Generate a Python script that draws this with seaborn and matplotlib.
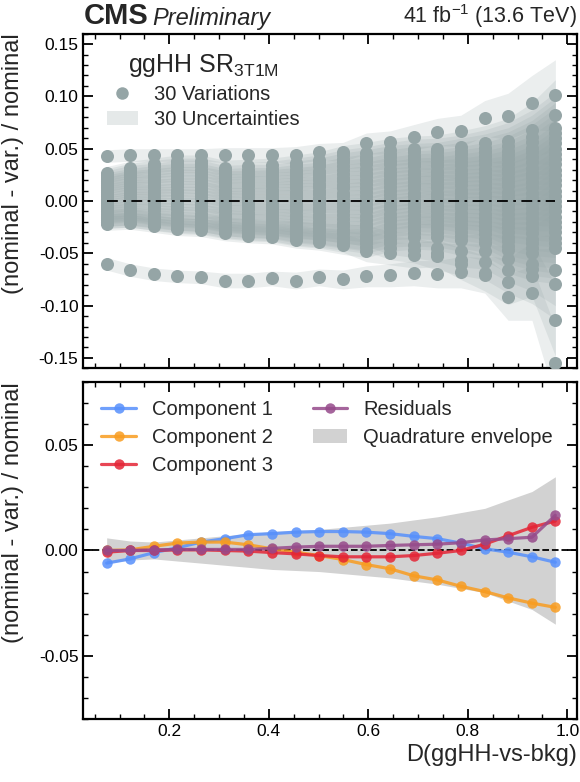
import matplotlib
matplotlib.use("Agg")
import matplotlib.pyplot as plt
from matplotlib.lines import Line2D
from matplotlib.patches import Patch
from matplotlib.ticker import MultipleLocator, FormatStrFormatter
import seaborn as sns
import numpy as np

# bin centres of D(ggHH-vs-bkg)
x_centers = [0.074, 0.121, 0.169, 0.216, 0.264, 0.311, 0.359, 0.406, 0.454, 0.501,
             0.549, 0.596, 0.644, 0.691, 0.739, 0.786, 0.834, 0.881, 0.929, 0.976]

# --- top panel: 30 variations ---
var_top = [0.043, 0.044, 0.044, 0.044, 0.044, 0.044, 0.044, 0.044, 0.044, 0.047,
           0.047, 0.055, 0.056, 0.061, 0.066, 0.067, 0.079, 0.081, 0.094, 0.101]
var_bottom = [-0.060, -0.066, -0.070, -0.072, -0.073, -0.076, -0.076, -0.074, -0.076, -0.073,
              -0.075, -0.072, -0.071, -0.069, -0.070, -0.068, -0.071, -0.092, -0.088, -0.155]
var_low_a = [-0.018, -0.017, -0.020, -0.022, -0.023, -0.026, -0.028, -0.029, -0.032, -0.034,
             -0.036, -0.038, -0.045, -0.047, -0.053, -0.056, -0.058, -0.066, -0.072, -0.079]
var_low_b = [-0.020, -0.019, -0.022, -0.025, -0.026, -0.029, -0.031, -0.032, -0.035, -0.037,
             -0.040, -0.048, -0.050, -0.052, -0.050, -0.060, -0.069, -0.077, -0.065, -0.114]
var_low_c = [-0.015, -0.013, -0.016, -0.018, -0.019, -0.022, -0.024, -0.025, -0.027, -0.029,
             -0.031, -0.033, -0.040, -0.042, -0.045, -0.048, -0.048, -0.055, -0.060, -0.066]
var_core = [
    [-0.022, -0.021, -0.024, -0.027, -0.028, -0.031, -0.033, -0.034, -0.037, -0.039, -0.042, -0.044, -0.037, -0.034, -0.034, -0.037, -0.040, -0.047, -0.050, -0.045],
    [-0.020, -0.019, -0.022, -0.024, -0.025, -0.028, -0.030, -0.031, -0.034, -0.036, -0.038, -0.040, -0.033, -0.031, -0.031, -0.033, -0.036, -0.043, -0.045, -0.040],
    [-0.018, -0.017, -0.019, -0.022, -0.023, -0.026, -0.028, -0.028, -0.031, -0.033, -0.035, -0.037, -0.030, -0.027, -0.027, -0.030, -0.032, -0.038, -0.040, -0.035],
    [-0.016, -0.014, -0.017, -0.019, -0.020, -0.023, -0.025, -0.026, -0.028, -0.029, -0.031, -0.033, -0.026, -0.024, -0.024, -0.026, -0.028, -0.034, -0.036, -0.030],
    [-0.014, -0.012, -0.014, -0.016, -0.017, -0.021, -0.022, -0.023, -0.025, -0.026, -0.028, -0.029, -0.023, -0.020, -0.020, -0.022, -0.024, -0.030, -0.031, -0.025],
    [-0.012, -0.010, -0.012, -0.013, -0.014, -0.018, -0.019, -0.020, -0.022, -0.023, -0.024, -0.025, -0.019, -0.017, -0.017, -0.018, -0.020, -0.025, -0.026, -0.020],
    [-0.010, -0.008, -0.009, -0.011, -0.012, -0.015, -0.017, -0.017, -0.019, -0.020, -0.021, -0.022, -0.016, -0.013, -0.013, -0.015, -0.016, -0.021, -0.021, -0.015],
    [-0.008, -0.006, -0.007, -0.008, -0.009, -0.013, -0.014, -0.014, -0.016, -0.016, -0.017, -0.018, -0.012, -0.010, -0.010, -0.011, -0.012, -0.017, -0.016, -0.010],
    [-0.006, -0.003, -0.004, -0.005, -0.006, -0.010, -0.011, -0.011, -0.013, -0.013, -0.013, -0.014, -0.008, -0.006, -0.006, -0.007, -0.008, -0.012, -0.011, -0.005],
    [-0.004, -0.001, -0.002, -0.003, -0.003, -0.007, -0.008, -0.009, -0.010, -0.010, -0.010, -0.010, -0.005, -0.003, -0.003, -0.004, -0.004, -0.008, -0.007, 0.000],
    [-0.002, 0.001, 0.001, 0.000, -0.001, -0.005, -0.006, -0.006, -0.007, -0.007, -0.006, -0.007, -0.001, 0.001, 0.001, 0.000, 0.000, -0.004, -0.002, 0.005],
    [0.000, 0.003, 0.003, 0.003, 0.002, -0.002, -0.003, -0.003, -0.004, -0.003, -0.003, -0.003, 0.002, 0.005, 0.005, 0.004, 0.004, 0.001, 0.003, 0.010],
    [0.002, 0.006, 0.006, 0.006, 0.005, 0.001, 0.000, 0.000, -0.001, 0.000, 0.001, 0.001, 0.006, 0.008, 0.008, 0.008, 0.008, 0.005, 0.008, 0.015],
    [0.005, 0.008, 0.008, 0.008, 0.008, 0.003, 0.003, 0.003, 0.003, 0.003, 0.005, 0.005, 0.010, 0.012, 0.012, 0.011, 0.012, 0.009, 0.013, 0.020],
    [0.007, 0.010, 0.010, 0.011, 0.011, 0.006, 0.006, 0.006, 0.006, 0.007, 0.008, 0.009, 0.013, 0.015, 0.015, 0.015, 0.015, 0.014, 0.018, 0.025],
    [0.009, 0.012, 0.013, 0.014, 0.013, 0.008, 0.008, 0.009, 0.009, 0.010, 0.012, 0.012, 0.017, 0.019, 0.019, 0.019, 0.019, 0.018, 0.023, 0.030],
    [0.011, 0.014, 0.015, 0.016, 0.016, 0.011, 0.011, 0.011, 0.012, 0.013, 0.015, 0.016, 0.020, 0.022, 0.022, 0.022, 0.023, 0.022, 0.027, 0.035],
    [0.013, 0.017, 0.018, 0.019, 0.019, 0.014, 0.014, 0.014, 0.015, 0.016, 0.019, 0.020, 0.024, 0.026, 0.026, 0.026, 0.027, 0.027, 0.032, 0.040],
    [0.015, 0.019, 0.020, 0.022, 0.022, 0.016, 0.017, 0.017, 0.018, 0.020, 0.022, 0.024, 0.027, 0.029, 0.029, 0.030, 0.031, 0.031, 0.037, 0.045],
    [0.017, 0.021, 0.023, 0.025, 0.024, 0.019, 0.019, 0.020, 0.021, 0.023, 0.026, 0.027, 0.031, 0.033, 0.033, 0.034, 0.035, 0.035, 0.042, 0.050],
    [0.019, 0.023, 0.025, 0.027, 0.027, 0.022, 0.022, 0.023, 0.024, 0.026, 0.030, 0.031, 0.035, 0.036, 0.036, 0.037, 0.039, 0.040, 0.047, 0.055],
    [0.021, 0.025, 0.028, 0.030, 0.030, 0.024, 0.025, 0.025, 0.027, 0.029, 0.033, 0.035, 0.038, 0.040, 0.040, 0.041, 0.043, 0.044, 0.051, 0.060],
    [0.023, 0.028, 0.030, 0.033, 0.033, 0.027, 0.028, 0.028, 0.030, 0.033, 0.037, 0.039, 0.042, 0.043, 0.043, 0.045, 0.047, 0.048, 0.056, 0.065],
    [0.025, 0.030, 0.033, 0.035, 0.035, 0.030, 0.030, 0.031, 0.033, 0.036, 0.040, 0.042, 0.045, 0.047, 0.047, 0.048, 0.051, 0.053, 0.061, 0.070],
    [0.027, 0.032, 0.035, 0.038, 0.038, 0.032, 0.033, 0.034, 0.036, 0.039, 0.044, 0.046, 0.049, 0.050, 0.050, 0.052, 0.055, 0.057, 0.068, 0.082],
]
# half-width of the per-variation uncertainty band
unc_half = [0.006, 0.006, 0.006, 0.006, 0.006, 0.007, 0.007, 0.007, 0.008, 0.008,
            0.009, 0.010, 0.011, 0.012, 0.013, 0.015, 0.017, 0.022, 0.026, 0.034]

# --- bottom panel ---
comp1 = [-0.0060, -0.0040, -0.0010, 0.0013, 0.0040, 0.0056, 0.0075, 0.0080, 0.0087, 0.0090,
         0.0090, 0.0087, 0.0080, 0.0067, 0.0056, 0.0035, 0.0008, -0.0008, -0.0030, -0.0056]
comp2 = [0.0000, 0.0003, 0.0020, 0.0035, 0.0040, 0.0040, 0.0027, 0.0008, -0.0008, -0.0024,
         -0.0043, -0.0067, -0.0087, -0.0120, -0.0140, -0.0170, -0.0195, -0.0225, -0.0250, -0.0270]
comp3 = [-0.0008, 0.0000, 0.0000, 0.0003, 0.0003, 0.0000, -0.0003, -0.0010, -0.0016, -0.0024,
         -0.0030, -0.0030, -0.0030, -0.0024, -0.0013, 0.0000, 0.0030, 0.0070, 0.0110, 0.0140]
resid = [0.0000, 0.0000, 0.0003, 0.0005, 0.0005, 0.0005, 0.0005, 0.0010, 0.0016, 0.0020,
         0.0020, 0.0020, 0.0024, 0.0027, 0.0030, 0.0037, 0.0050, 0.0056, 0.0063, 0.0167]
envelope = [0.006, 0.0045, 0.004, 0.005, 0.006, 0.007, 0.008, 0.009, 0.0095, 0.010,
            0.011, 0.012, 0.013, 0.0145, 0.016, 0.018, 0.020, 0.024, 0.028, 0.035]

c_var = "#95a5a6"
colors = {"Component 1": "#5790fc", "Component 2": "#f89c20",
          "Component 3": "#e42536", "Residuals": "#964a8b"}

sns.set_theme(style="ticks")
plt.rcParams["font.family"] = ["Liberation Sans", "DejaVu Sans"]
plt.rcParams.update({
    "mathtext.fontset": "custom",
    "mathtext.rm": "Liberation Sans",
    "mathtext.it": "Liberation Sans:italic",
    "mathtext.bf": "Liberation Sans:bold",
    "axes.unicode_minus": False,
    "axes.edgecolor": "black",
    "axes.linewidth": 1.6,
    "xtick.color": "black",
    "ytick.color": "black",
})

fig = plt.figure(figsize=(5.8, 7.82), dpi=100)
ax_top = fig.add_axes([0.1436, 0.5289, 0.8512, 0.4281])
ax_bot = fig.add_axes([0.1436, 0.0806, 0.8512, 0.4309], sharex=ax_top)

x = np.array(x_centers)
unc = np.array(unc_half)
all_vars = [var_top, var_bottom, var_low_a, var_low_b, var_low_c] + var_core

for v in all_vars:
    v = np.array(v)
    ax_top.fill_between(x, v - unc, v + unc, color=c_var, alpha=0.19, lw=0, zorder=1)
for v in all_vars:
    sns.scatterplot(x=x_centers, y=v, color=c_var, s=88, linewidth=0,
                    ax=ax_top, zorder=3, legend=False)
ax_top.hlines(0, x_centers[0], x_centers[-1], colors="black", lw=1.3,
              linestyles=(0, (6, 3, 1.5, 3)), zorder=4)

env = np.array(envelope)
ax_bot.fill_between(x, -env, env, color="#d2d2d2", lw=0, zorder=1)
ax_bot.axhline(0, color="black", lw=1.3, ls="--", zorder=2)
for name, vals in zip(colors, [comp1, comp2, comp3, resid]):
    sns.lineplot(x=x_centers, y=vals, color=colors[name], marker="o", markersize=7.5,
                 markeredgewidth=0, lw=2.3, alpha=0.85, ax=ax_bot, zorder=3)

for ax in (ax_top, ax_bot):
    ax.set_xlim(0.027, 1.0195)
    ax.xaxis.set_major_locator(MultipleLocator(0.2))
    ax.xaxis.set_minor_locator(MultipleLocator(0.05))
    ax.yaxis.set_major_locator(MultipleLocator(0.05))
    ax.yaxis.set_major_formatter(FormatStrFormatter("%.2f"))
    ax.tick_params(which="both", direction="in", top=True, right=True, labelsize=12.5)
    ax.tick_params(which="major", length=7, width=1.3)
    ax.tick_params(which="minor", length=3.5, width=1.0)
    ax.set_ylabel("(nominal - var.) / nominal", fontsize=17, loc="top")
    for s in ax.spines.values():
        s.set_linewidth(1.6)
        s.set_color("black")

ax_top.set_ylim(-0.16, 0.16)
ax_top.yaxis.set_minor_locator(MultipleLocator(0.01))
ax_top.tick_params(labelbottom=False)
ax_top.set_xlabel("")
ax_bot.set_ylim(-0.08, 0.08)
ax_bot.yaxis.set_minor_locator(MultipleLocator(0.01))
ax_bot.xaxis.set_major_formatter(FormatStrFormatter("%.1f"))
ax_bot.set_xlabel("D(ggHH-vs-bkg)", fontsize=17, loc="right")
ax_top.yaxis.set_label_coords(-0.12, 1.0)
ax_bot.yaxis.set_label_coords(-0.12, 1.0)

# legends
h_top = [Line2D([], [], marker="o", ls="", color=c_var, markersize=9, markeredgewidth=0),
         Patch(facecolor=c_var, alpha=0.24, lw=0)]
leg = ax_top.legend(h_top, ["30 Variations", "30 Uncertainties"], loc="upper left",
                    bbox_to_anchor=(0.012, 1.0), frameon=False, fontsize=14.5,
                    title="ggHH SR$_{\\mathrm{3T1M}}$", title_fontsize=18,
                    handlelength=1.5, labelspacing=0.3)

h_bot = [Line2D([], [], color=colors[n], marker="o", markersize=7.5, markeredgewidth=0,
                lw=2.3, alpha=0.85) for n in colors]
h_bot = h_bot + [Patch(facecolor="#d2d2d2", lw=0)]
labels_bot = list(colors) + ["Quadrature envelope"]
ax_bot.legend(h_bot, labels_bot, loc="upper left", ncol=2, frameon=False,
              fontsize=14.5, handlelength=1.7, labelspacing=0.45, columnspacing=2.0)

# header
cms = ax_top.text(0.0, 1.012, "CMS", transform=ax_top.transAxes, fontsize=21,
                  fontweight="bold", ha="left", va="bottom")
fig.canvas.draw()
bb = cms.get_window_extent().transformed(ax_top.transAxes.inverted())
ax_top.text(bb.x1 + 0.008, 1.012, "Preliminary", transform=ax_top.transAxes,
            fontsize=17, fontstyle="italic", ha="left", va="bottom")
ax_top.text(1.0, 1.012, "41 fb$^{-1}$ (13.6 TeV)", transform=ax_top.transAxes,
            fontsize=15.5, ha="right", va="bottom")

fig.savefig("out.png", dpi=100)
